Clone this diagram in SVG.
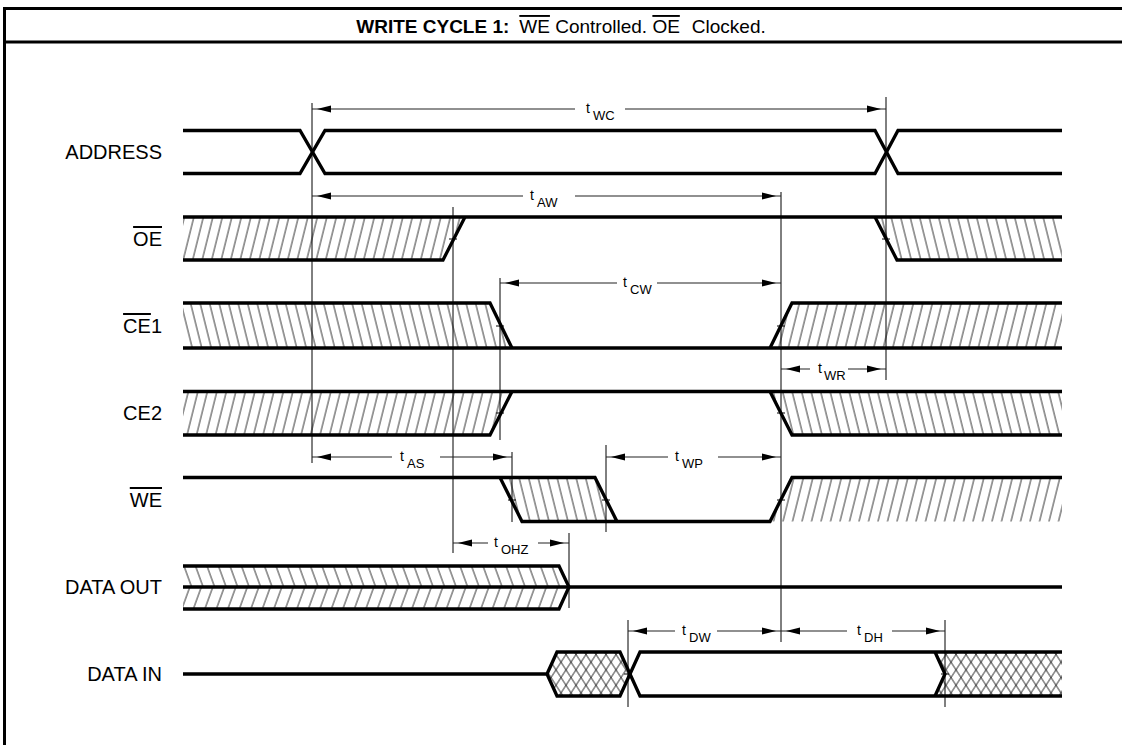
<svg xmlns="http://www.w3.org/2000/svg" width="1122" height="745" viewBox="0 0 1122 745">
<style>
.sig{fill:none;stroke:#000;stroke-width:3.3;stroke-linejoin:miter;stroke-linecap:butt}
.vl{stroke:#000;stroke-width:1;fill:none}
.dim{stroke:#222;stroke-width:1.1;fill:none}
.tick{stroke:#000;stroke-width:1;fill:none}
.lbl{font-family:"Liberation Sans",Arial,sans-serif;font-size:20px;fill:#000;text-anchor:end}
.ol{text-decoration:overline}
.t{font-family:"Liberation Sans",Arial,sans-serif;font-size:14px;fill:#000}
.sub{font-size:13px}
.frame{stroke:#000;stroke-width:3;fill:none}
.title{font-family:"Liberation Sans",Arial,sans-serif;font-size:19px;fill:#000;text-anchor:middle}
.hl{stroke:#000;stroke-width:0.8}
</style>
<defs>
<pattern id="hf" patternUnits="userSpaceOnUse" width="9.5" height="60" patternTransform="skewX(-14)"><line class="hl" x1="1" y1="0" x2="1" y2="60"/></pattern>
<pattern id="hb" patternUnits="userSpaceOnUse" width="9.5" height="60" patternTransform="skewX(14)"><line class="hl" x1="1" y1="0" x2="1" y2="60"/></pattern>
<pattern id="df" patternUnits="userSpaceOnUse" width="11.5" height="60" patternTransform="skewX(-20)"><line class="hl" x1="1" y1="0" x2="1" y2="60"/></pattern>
<pattern id="db" patternUnits="userSpaceOnUse" width="11.5" height="60" patternTransform="skewX(20)"><line class="hl" x1="1" y1="0" x2="1" y2="60"/></pattern>
<pattern id="xa" patternUnits="userSpaceOnUse" width="10" height="60" patternTransform="skewX(-33)"><line class="hl" x1="1" y1="0" x2="1" y2="60"/></pattern>
<pattern id="xb" patternUnits="userSpaceOnUse" width="10" height="60" patternTransform="skewX(33)"><line class="hl" x1="1" y1="0" x2="1" y2="60"/></pattern>
<path id="ar" d="M0,0 L-14,-3.6 L-14,3.6 Z" fill="#000"/>
</defs>
<rect width="1122" height="745" fill="#fff"/>

<g id="frame">
<path class="frame" d="M4.5,745 V8.5 H1122"/>
<line class="frame" x1="3" y1="42" x2="1122" y2="42"/>
<text class="title" x="561" y="33"><tspan font-weight="bold">WRITE CYCLE 1:</tspan><tspan dx="10" class="ol">WE</tspan> Controlled. <tspan class="ol">OE</tspan><tspan dx="12">Clocked.</tspan></text>
</g>

<g id="address">
<text class="lbl" x="162" y="159">ADDRESS</text>
<path class="sig" d="M183,130.5 H300 L325,173.5 H875 L898,130.5 H1062"/>
<path class="sig" d="M183,173.5 H300 L325,130.5 H875 L898,173.5 H1062"/>
</g>

<g id="oe">
<text class="lbl" x="162" y="246"><tspan class="ol">OE</tspan></text>
<polygon points="183,217 465,217 443,260 183,260" fill="url(#hf)"/>
<polygon points="875,217 1062,217 1062,260 897,260" fill="url(#hb)"/>
<path class="sig" d="M183,217 H1062"/>
<path class="sig" d="M183,260 H443 L465,217"/>
<path class="sig" d="M875,217 L897,260 H1062"/>
</g>

<g id="ce1">
<text class="lbl" x="162" y="333"><tspan class="ol">CE</tspan>1</text>
<polygon points="183,303 490,303 512,348 183,348" fill="url(#hb)"/>
<polygon points="770,348 792,303 1062,303 1062,348" fill="url(#hf)"/>
<path class="sig" d="M183,303 H490 L512,348"/>
<path class="sig" d="M183,348 H1062"/>
<path class="sig" d="M770,348 L792,303 H1062"/>
</g>

<g id="ce2">
<text class="lbl" x="162" y="420">CE2</text>
<polygon points="183,391.5 512,391.5 490,435 183,435" fill="url(#hf)"/>
<polygon points="770,391.5 1062,391.5 1062,435 792,435" fill="url(#hb)"/>
<path class="sig" d="M183,391.5 H1062"/>
<path class="sig" d="M183,435 H490 L512,391.5"/>
<path class="sig" d="M770,391.5 L792,435 H1062"/>
</g>

<g id="we">
<text class="lbl" x="162" y="507"><tspan class="ol">WE</tspan></text>
<polygon points="500,477.5 595,477.5 617,521.5 522,521.5" fill="url(#hb)"/>
<polygon points="770,521.5 792,477.5 1062,477.5 1062,521.5" fill="url(#hf)"/>
<path class="sig" d="M183,477.5 H595 L617,521.5"/>
<path class="sig" d="M500,477.5 L522,521.5 H770 L792,477.5 H1062"/>
</g>

<g id="data-out">
<text class="lbl" x="162" y="594">DATA OUT</text>
<polygon points="183,566 559,566 569,587 183,587" fill="url(#db)"/>
<polygon points="183,587 569,587 559,609 183,609" fill="url(#df)"/>
<path class="sig" d="M183,566 H559 L569,587 L559,609 H183"/>
<path class="sig" d="M183,587 H1062"/>
</g>

<g id="data-in">
<text class="lbl" x="162" y="681">DATA IN</text>
<polygon points="547,674 557,652 620,652 628,674 620,696 557,696" fill="url(#xa)"/>
<polygon points="547,674 557,652 620,652 628,674 620,696 557,696" fill="url(#xb)"/>
<polygon points="935,652 1062,652 1062,696 935,696 945,674" fill="url(#xa)"/>
<polygon points="935,652 1062,652 1062,696 935,696 945,674" fill="url(#xb)"/>
<path class="sig" d="M183,674 H547 L557,652 H620 L640,696 H1062"/>
<path class="sig" d="M547,674 L557,696 H620 L640,652 H1062"/>
<path class="sig" d="M935,652 L945,674 L935,696"/>
</g>

<g id="connectors">
<g id="verticals">
<line class="vl" x1="312" y1="103" x2="312" y2="463"/>
<line class="vl" x1="886" y1="97" x2="886" y2="380"/>
<line class="vl" x1="453" y1="207" x2="453" y2="553"/>
<line class="vl" x1="781" y1="192" x2="781" y2="642"/>
<line class="vl" x1="500" y1="278" x2="500" y2="440"/>
<line class="vl" x1="512" y1="452" x2="512" y2="522"/>
<line class="vl" x1="606" y1="445" x2="606" y2="532"/>
<line class="vl" x1="569" y1="533" x2="569" y2="608"/>
<line class="vl" x1="628" y1="620" x2="628" y2="707"/>
<line class="vl" x1="945" y1="620" x2="945" y2="707"/>
</g>
<g id="ticks">
<path class="tick" d="M449,239h8 M882,239h8 M496,326h8 M777,326h8 M496,413h8 M777,413h8 M508,500h8 M602,500h8 M777,500h8 M624,674h8 M941,674h8"/>
</g>
<g id="t-wc">
<path class="dim" d="M312,109 H575 M625,109 H886"/>
<use href="#ar" transform="translate(317,109) scale(-1,1)"/>
<use href="#ar" transform="translate(881,109)"/>
<text class="t" x="586" y="113">t<tspan class="sub" x="593" y="120">WC</tspan></text>
</g>
<g id="t-aw">
<path class="dim" d="M312,196 H523 M575,196 H781"/>
<use href="#ar" transform="translate(317,196) scale(-1,1)"/>
<use href="#ar" transform="translate(776,196)"/>
<text class="t" x="530" y="200">t<tspan class="sub" x="537" y="207">AW</tspan></text>
</g>
<g id="t-cw">
<path class="dim" d="M500,283 H617 M657,283 H781"/>
<use href="#ar" transform="translate(505,283) scale(-1,1)"/>
<use href="#ar" transform="translate(776,283)"/>
<text class="t" x="623" y="287">t<tspan class="sub" x="630" y="294">CW</tspan></text>
</g>
<g id="t-wr">
<path class="dim" d="M781,369 H810 M848,369 H886"/>
<use href="#ar" transform="translate(786,369) scale(-1,1)"/>
<use href="#ar" transform="translate(881,369)"/>
<text class="t" x="818" y="373">t<tspan class="sub" x="824" y="380">WR</tspan></text>
</g>
<g id="t-as">
<path class="dim" d="M312,457 H392 M440,457 H512"/>
<use href="#ar" transform="translate(317,457) scale(-1,1)"/>
<use href="#ar" transform="translate(507,457)"/>
<text class="t" x="400" y="461">t<tspan class="sub" x="407" y="468">AS</tspan></text>
</g>
<g id="t-wp">
<path class="dim" d="M606,457 H668 M718,457 H781"/>
<use href="#ar" transform="translate(611,457) scale(-1,1)"/>
<use href="#ar" transform="translate(776,457)"/>
<text class="t" x="675" y="461">t<tspan class="sub" x="682" y="468">WP</tspan></text>
</g>
<g id="t-ohz">
<path class="dim" d="M453,543 H488 M538,543 H569"/>
<use href="#ar" transform="translate(458,543) scale(-1,1)"/>
<use href="#ar" transform="translate(564,543)"/>
<text class="t" x="494" y="547">t<tspan class="sub" x="501" y="554">OHZ</tspan></text>
</g>
<g id="t-dw">
<path class="dim" d="M628,631 H675 M717,631 H781"/>
<use href="#ar" transform="translate(633,631) scale(-1,1)"/>
<use href="#ar" transform="translate(776,631)"/>
<text class="t" x="682" y="635">t<tspan class="sub" x="689" y="642">DW</tspan></text>
</g>
<g id="t-dh">
<path class="dim" d="M781,631 H847 M892,631 H945"/>
<use href="#ar" transform="translate(786,631) scale(-1,1)"/>
<use href="#ar" transform="translate(940,631)"/>
<text class="t" x="857" y="635">t<tspan class="sub" x="864" y="642">DH</tspan></text>
</g>
</g>
</svg>
